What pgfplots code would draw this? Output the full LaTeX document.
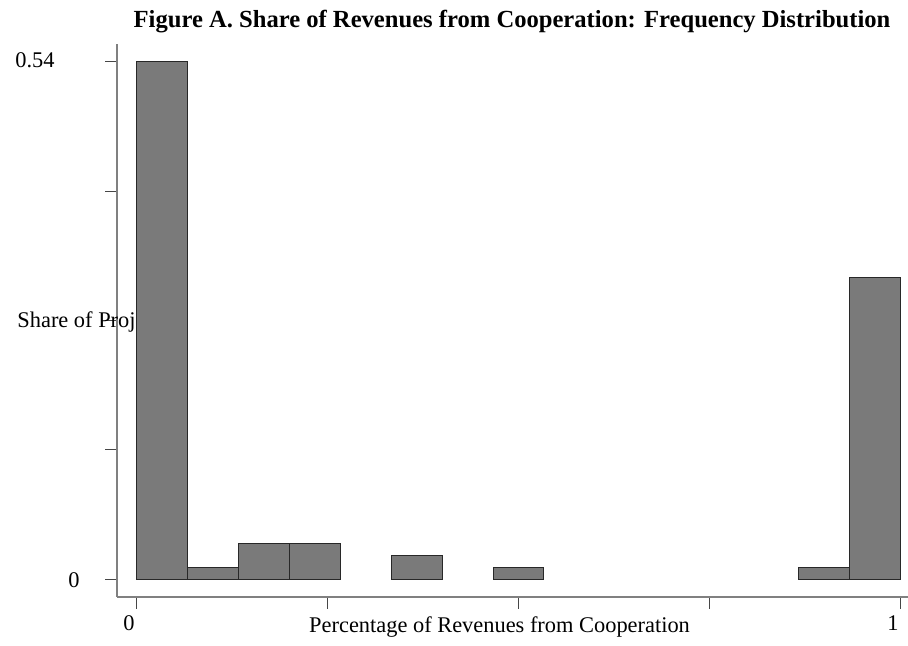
\documentclass[border=0pt]{standalone}
\usepackage{pgfplots}
\pgfplotsset{compat=1.18}
\usepackage{fontspec}
\setmainfont{Liberation Serif}
\definecolor{barfill}{RGB}{122,122,122}
\definecolor{barline}{RGB}{40,40,40}
\definecolor{axline}{RGB}{128,128,128}
\definecolor{tickcol}{RGB}{70,70,70}
\begin{document}
\fontsize{11.2}{13}\selectfont
\begin{tikzpicture}
\useasboundingbox (0,0) rectangle (454pt,323pt);
\begin{axis}[
    at={(58.5pt,24.5pt)}, anchor=south west,
    scale only axis, width=395.5pt, height=276.5pt,
    xmin=-0.0262, xmax=1.0105,
    ymin=-0.0188, ymax=0.5588,
    axis x line=bottom, axis y line=left,
    axis line style={-, axline, line width=0.6pt},
    tick align=outside, major tick length=6pt,
    tick style={tickcol, line width=0.5pt},
    xtick={0,0.25,0.5,0.75,1},
    ytick={0,0.135,0.27,0.405,0.54},
    xticklabels={{},{},{},{},{}},
    yticklabels={{},{},{},{},{}},
    clip=false,
]
% y title sits under the bars, as in the reference
\node[anchor=base west, inner sep=0pt] at (axis description cs:-0.1264,0.4882) {Share of Projects};

\addplot[ybar, bar width=0.066667, fill=barfill, draw=barline, line width=0.5pt]
coordinates {
(0.033333, 0.540)
(0.100000, 0.0125)
(0.166667, 0.0376)
(0.233333, 0.0376)
(0.366667, 0.0250)
(0.500000, 0.0125)
(0.900000, 0.0125)
(0.966667, 0.3144)
};

\node[anchor=base] at (axis description cs:-0.1037,0.9566) {0.54};
\node[anchor=base] at (axis description cs:-0.0544,0.0163) {0};
\node[anchor=base] at (axis description cs:0.0152,-0.0597) {0};
\node[anchor=base] at (axis description cs:0.981,-0.0597) {1};
\node[anchor=base] at (axis description cs:0.4836,-0.0651) {Percentage of Revenues from Cooperation};
\node[anchor=base, font=\fontsize{12.3}{14}\selectfont\bfseries] at (axis description cs:0.4994,1.0307)
  {Figure A. Share of Revenues from Cooperation: Frequency Distribution};
\end{axis}
\end{tikzpicture}
\end{document}
